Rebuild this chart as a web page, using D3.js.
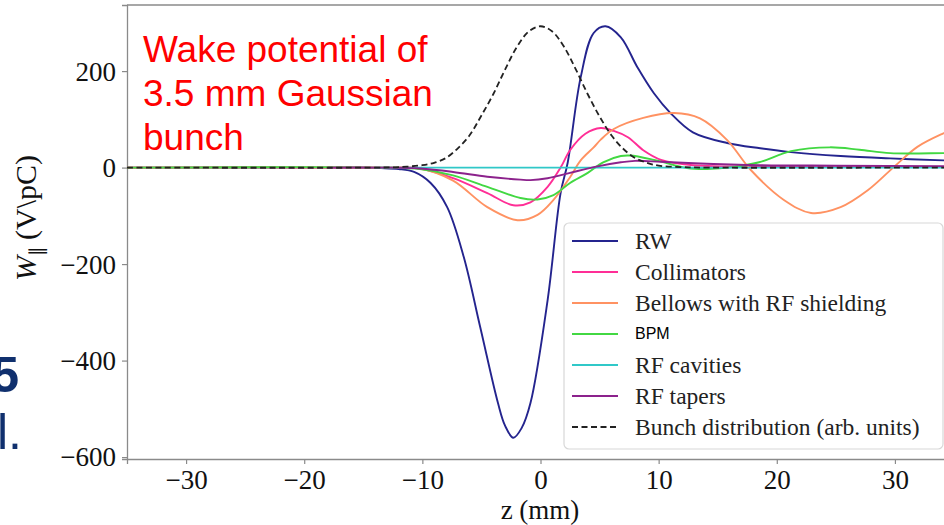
<!DOCTYPE html>
<html>
<head>
<meta charset="utf-8">
<script src="https://cdn.jsdelivr.net/npm/d3@7"></script>
<style>
  body { margin: 0; background: #fff; overflow: hidden; }
  svg { display: block; }
</style>
</head>
<body>
<div id="chart"></div>
<script>
// values: [z (mm), W (V/pC)]
const rwData = [[-35,0],[-16,0],[-13.5,-1],[-12,-3],[-10.7,-9],[-9.3,-32],[-7.9,-82],[-6.5,-185],[-5.1,-331],[-3.6,-488],[-3.0,-535],[-2.3,-560],[-1.6,-540],[-0.85,-488],[0.6,-275],[1.7,-53],[2.3,10],[3.4,187],[4.5,279],[5.5,293],[6.8,270],[8.2,208],[9.6,154],[11.0,113],[12.9,73],[15.8,51],[18.6,40],[21.2,32],[25.4,24],[29.6,19],[34.1,15],[35,14]];
const collData = [[-35,0],[-13.5,0],[-10.2,-2],[-7.4,-22],[-4.5,-53],[-2.3,-78],[-0.85,-72],[0.6,-40],[1.7,0],[2.5,36],[3.8,70],[5.1,82],[6.2,76],[7.4,63],[8.7,36],[10.2,16],[12.9,5],[20,2],[35,1]];
const bellowsData = [[-35,0],[-13.5,0],[-10.2,-2],[-7.4,-27],[-4.5,-82],[-1.95,-109],[-0.25,-98],[1.1,-67],[2.5,-20],[3.4,15],[4.5,42],[5.1,58],[6.2,80],[8.7,103],[11.3,113],[13.5,102],[15.8,57],[17.8,-5],[20.6,-67],[22.9,-94],[25.4,-82],[27.7,-47],[29.9,1],[31.9,43],[34.1,71],[35,80]];
const bpmData = [[-35,0],[-13.5,0],[-10.2,-3],[-7.4,-16],[-4.5,-40],[-1.7,-63],[-0.25,-66],[1.1,-57],[2.5,-32],[4.0,-11],[5.3,11],[6.8,24],[7.6,25],[9.6,16],[12.4,-1],[14.1,-3],[16.3,1],[18.5,11],[21.2,34],[24.5,42],[27,37],[29.6,30],[34.1,30],[35,30]];
const cavData = [[-14,0],[0,0],[35,0]];
const taperData = [[-18,0],[-13.5,0],[-10.2,-2],[-7.4,-9],[-4.5,-19],[-1.7,-25],[-0.85,-26],[0.6,-22],[2.5,-11],[4.5,1],[6.8,11],[8,14],[10.2,12],[13.0,9],[18.6,5],[25,4],[35,3]];
const bunchData = [[-35,0],[-14,0],[-12,1],[-10,5],[-9,10],[-8,20],[-7,40],[-6,67],[-5,108],[-4,152],[-3,203],[-2,250],[-1,282],[0,293],[1,282],[2,250],[3,203],[4,152],[5,106],[6,67],[7,39],[8,20],[9,10],[10,4],[12,1],[14,0],[35,0]];

const seriesNames = ["RW","Collimators","Bellows with RF shielding","BPM","RF cavities","RF tapers","Bunch distribution (arb. units)"];
const seriesColors = ["#24248e","#ff2e96","#ff9262","#42d842","#30c8c8","#8c228c","#222222"];
const seriesData = [rwData, collData, bellowsData, bpmData, cavData, taperData, bunchData];

const xTicks = [-30,-20,-10,0,10,20,30];
const yTicks = [-600,-400,-200,0,200];

const W = 944, H = 525;
const svg = d3.select("#chart").append("svg")
  .attr("width", W).attr("height", H);

const pLeft = 127, pTop = 5, pBottom = 459, pRight = 954;
const x = d3.scaleLinear().domain([-35,35]).range([pLeft,pRight]);
const y = d3.scaleLinear().domain([-604,337]).range([pBottom,pTop]);

svg.append("clipPath").attr("id","plotclip")
  .append("rect").attr("x",pLeft).attr("y",pTop).attr("width",pRight-pLeft).attr("height",pBottom-pTop);

const serif = "'Liberation Serif', 'Times New Roman', serif";

// axes
const xAxis = svg.append("g")
  .attr("transform","translate(0," + pBottom + ")")
  .call(d3.axisBottom(x).tickValues(xTicks).tickSize(5).tickPadding(4)
    .tickFormat(d => d < 0 ? "\u2212" + Math.abs(d) : d));
const yAxis = svg.append("g")
  .attr("transform","translate(" + pLeft + ",0)")
  .call(d3.axisLeft(y).tickValues(yTicks).tickSize(5).tickPadding(6)
    .tickFormat(d => d < 0 ? "\u2212" + Math.abs(d) : d));
[xAxis, yAxis].forEach(g => {
  g.select(".domain").attr("stroke","#8a8a8a").attr("stroke-width",1.3);
  g.selectAll(".tick line").attr("stroke","#8a8a8a").attr("stroke-width",1.2);
  g.selectAll(".tick text").attr("fill","#111").style("font-family",serif).style("font-size","27px");
});
xAxis.selectAll(".tick text").attr("dy","0.76em");
yAxis.selectAll(".tick text").attr("dy","0.33em");

// top spine
svg.append("line").attr("x1",pLeft).attr("x2",pRight).attr("y1",pTop).attr("y2",pTop)
  .attr("stroke","#8a8a8a").attr("stroke-width",1.3);

// curves
const line = d3.line().x(d => x(d[0])).y(d => y(d[1])).curve(d3.curveCatmullRom.alpha(0.5));
const plot = svg.append("g").attr("clip-path","url(#plotclip)");
seriesData.forEach((data, i) => {
  plot.append("path")
    .datum(data)
    .attr("fill","none")
    .attr("stroke",seriesColors[i])
    .attr("stroke-width", i == 6 ? 1.8 : 1.9)
    .attr("stroke-dasharray", i == 6 ? "6,3.5" : null)
    .attr("d", line);
});

// legend
const lg = svg.append("g");
lg.append("rect").attr("x",564).attr("y",223).attr("width",379).attr("height",226)
  .attr("rx",5).attr("fill","rgba(255,255,255,0.85)").attr("stroke","#d8d8d8").attr("stroke-width",1.2);
seriesNames.forEach((name, i) => {
  const cy = 241 + i * 31;
  lg.append("line").attr("x1",572).attr("x2",618).attr("y1",cy).attr("y2",cy)
    .attr("stroke",seriesColors[i]).attr("stroke-width",2)
    .attr("stroke-dasharray", i == 6 ? "6,3.5" : null);
  lg.append("text").attr("x",635).attr("y",cy).attr("dy","0.33em")
    .style("font-family", name == "BPM" ? "'Liberation Sans', Arial, sans-serif" : serif)
    .style("font-size", name == "BPM" ? "16px" : "23.5px")
    .attr("fill", name == "BPM" ? "#000" : "#222")
    .text(name);
});

// axis labels
svg.append("text").attr("x",540).attr("y",519).attr("text-anchor","middle")
  .style("font-family",serif).style("font-size","27px").attr("fill","#111")
  .text("z (mm)");
const yl = svg.append("text")
  .attr("transform","translate(36,218) rotate(-90)")
  .attr("text-anchor","middle")
  .style("font-family",serif).style("font-size","30px").attr("fill","#111");
yl.append("tspan").style("font-style","italic").text("W");
yl.append("tspan").attr("dy",7).style("font-size","19px").text("\u2225");
yl.append("tspan").attr("dy",-7).text("\u2009(V\\pC)");

// red note
const note = ["Wake potential of","3.5 mm Gaussian","bunch"];
note.forEach((t, i) => {
  svg.append("text").attr("x",143).attr("y",62 + i * 44)
    .style("font-family","'Liberation Sans', Arial, sans-serif").style("font-size","37px")
    .attr("fill","#ff0000").text(t);
});

// slide text showing at the left edge
svg.append("text").attr("x",19).attr("y",392).attr("text-anchor","end")
  .style("font-family","'Liberation Sans', Arial, sans-serif").style("font-size","50px")
  .style("font-weight","bold").attr("fill","#10306e").text("5");
svg.append("text").attr("x",22).attr("y",449).attr("text-anchor","end")
  .style("font-family","'Liberation Sans', Arial, sans-serif").style("font-size","50px")
  .attr("fill","#10306e").text("l.");
</script>
</body>
</html>
